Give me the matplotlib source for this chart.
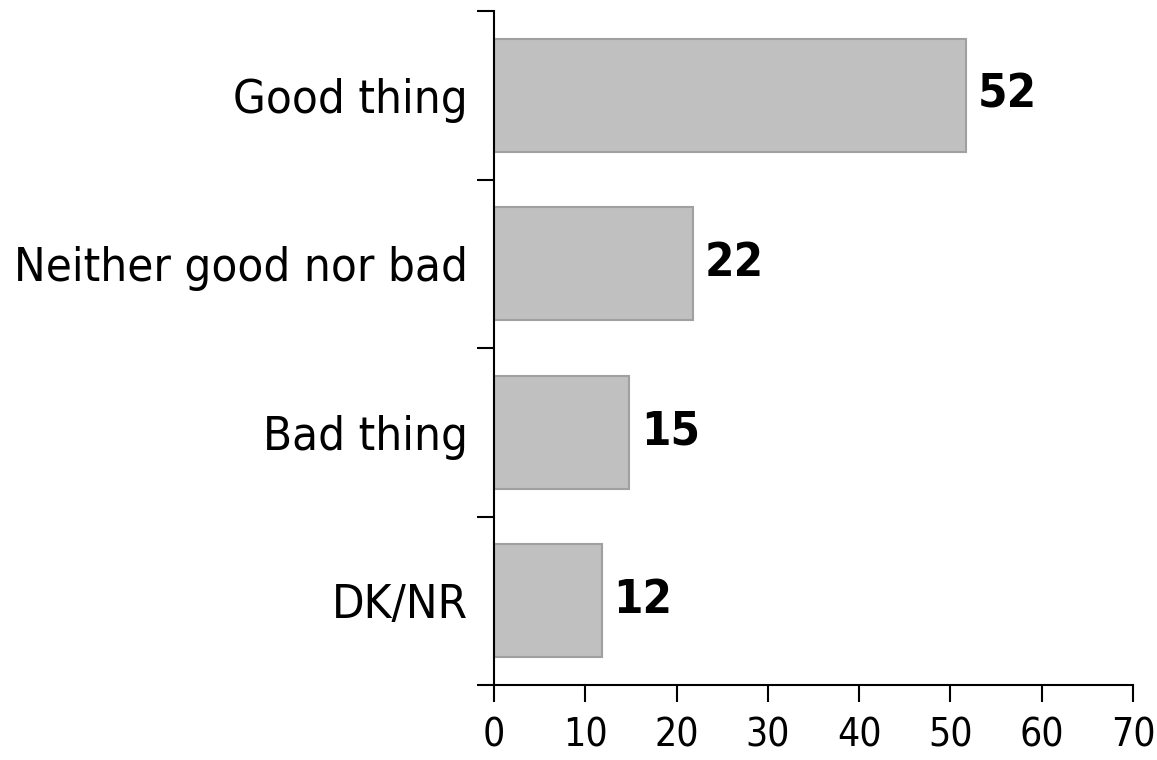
import numpy as np
import matplotlib.pyplot as plt

categories = ["Good thing", "Neither good nor bad", "Bad thing", "DK/NR"]
values = [51.7, 21.8, 14.8, 11.8]
value_labels = ["52", "22", "15", "12"]
x_ticks = [0, 10, 20, 30, 40, 50, 60, 70]

plt.rcParams['font.family'] = ['DejaVu Sans']
plt.rcParams['font.stretch'] = 'condensed'

fig = plt.figure(figsize=(11.57, 7.6), dpi=100)
ax = fig.add_axes([494 / 1157, 1 - 685 / 760, (1133 - 494) / 1157, (685 - 11) / 760])

y = np.arange(len(categories))[::-1]
ax.barh(y, values, height=0.67, color="#c0c0c0", edgecolor="#a0a0a0", linewidth=1.5)

for yi, v, lab in zip(y, values, value_labels):
    ax.text(v + 1.3, yi, lab, va="center", ha="left", fontsize=34, fontweight="bold",
            fontstretch="condensed")

ax.set_xlim(0, 70)
ax.set_ylim(-0.5, len(categories) - 0.5)
ax.set_xticks(x_ticks)
ax.set_yticks(y)
ax.set_yticklabels(categories)
ax.set_yticks(np.arange(-0.5, len(categories), 1.0), minor=True)

ax.tick_params(axis="y", which="major", length=0, pad=19, labelsize=34)
ax.tick_params(axis="y", which="minor", length=12, width=1.5)
ax.tick_params(axis="x", length=12, width=1.5, pad=11, labelsize=28)

for s in ["top", "right"]:
    ax.spines[s].set_visible(False)
for s in ["left", "bottom"]:
    ax.spines[s].set_linewidth(1.5)

fig.savefig("out.png", dpi=100)
